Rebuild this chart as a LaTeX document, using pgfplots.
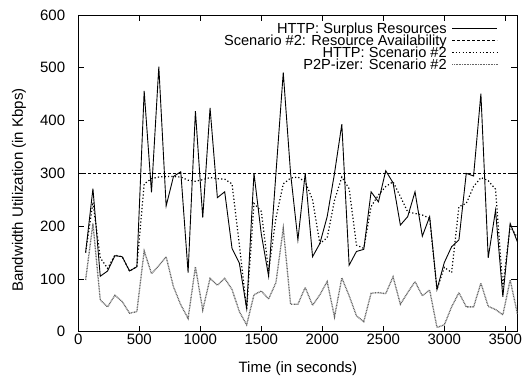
\documentclass[border=0pt]{standalone}
\usepackage{fontspec}
\setmainfont{Liberation Sans}
\usepackage{pgfplots}
\pgfplotsset{compat=1.18}
\begin{document}
\fontsize{15bp}{18bp}\selectfont
\begin{tikzpicture}[font=\fontsize{15bp}{18bp}\selectfont]
\begin{axis}[
  scale only axis, width=439.2bp, height=316.7bp,
  xmin=0, xmax=3600, ymin=0, ymax=600,
  xtick={0,500,...,3500}, ytick={0,100,...,600},
  tick align=inside, major tick length=6bp,
  tick style={black, line width=0.6bp},
  axis line style={line width=0.8bp},
  /pgf/number format/assume math mode=true,
  /pgf/number format/1000 sep={},
  ticklabel style={font=\fontsize{15bp}{18bp}\selectfont},
  xticklabel style={inner sep=0pt, anchor=north, yshift=-2.5bp},
  yticklabel style={inner sep=0pt, anchor=east, xshift=-13bp},
  xlabel={Time (in seconds)}, ylabel={Bandwidth Utilization (in Kbps)},
  every axis x label/.style={at={(axis description cs:0.5,-0.1178)}, anchor=center, inner sep=0pt},
  every axis y label/.style={at={(axis description cs:-0.135,0.447)}, anchor=center, rotate=90, inner sep=0pt},
  legend style={draw=none, fill=none, at={(axis description cs:0.9556,0.975)}, anchor=north east,
    inner sep=0pt, outer sep=0pt, row sep=0pt, column sep=5bp,
    font=\fontsize{14.6bp}{17bp}\selectfont,
    nodes={inner sep=0pt, text height=10.9bp, text depth=1bp}},
  legend cell align=right, legend plot pos=right,
  legend image code/.code={\draw[#1] (0bp,0bp) -- (45bp,0bp);},
]
\addplot[black, line width=0.9bp] table {
60 150
120 271
180 105
240 115
300 144
360 142
420 115
480 123
540 456
600 264
660 502
720 238
780 294
840 303
900 112
960 418
1020 216
1080 424
1140 254
1200 265
1260 158
1320 130
1380 44
1440 300
1500 185
1560 105
1620 300
1680 491
1740 300
1800 174
1860 300
1920 142
1980 167
2040 218
2100 300
2160 393
2220 126
2280 152
2340 156
2400 265
2460 246
2520 305
2580 282
2640 202
2700 218
2760 265
2820 181
2880 218
2940 80
3000 131
3060 161
3120 174
3180 300
3240 295
3300 451
3360 140
3420 230
3480 66
3540 205
3600 170
};
\addlegendentry{HTTP: Surplus Resources}
\addplot[black, line width=0.8bp, dash pattern=on 3bp off 2bp] table {
0 300
3600 300
};
\addlegendentry{Scenario \#2: Resource Availability}
\addplot[black, line width=1.2bp, dash pattern=on 1.2bp off 2.2bp] table {
60 150
120 245
180 140
240 120
300 145
360 142
420 115
480 123
540 280
600 290
660 293
720 294
780 294
840 293
900 287
960 285
1020 288
1080 292
1140 290
1200 289
1260 280
1320 165
1380 42
1440 243
1500 228
1560 115
1620 215
1680 280
1740 291
1800 293
1860 284
1920 250
1980 167
2040 178
2100 249
2160 293
2220 271
2280 164
2340 158
2400 237
2460 259
2520 275
2580 284
2640 256
2700 227
2760 224
2820 221
2880 215
2940 80
3000 122
3060 112
3120 237
3180 243
3240 275
3300 292
3360 286
3420 270
3480 85
3540 200
3600 178
};
\addlegendentry{HTTP: Scenario \#2}
\addplot[black!60, line width=1.3bp, dash pattern=on 0.9bp off 0.7bp] table {
60 98
120 205
180 60
240 47
300 69
360 57
420 35
480 38
540 153
600 110
660 125
720 142
780 85
840 51
900 25
960 123
1020 41
1080 101
1140 88
1200 101
1260 80
1320 38
1380 13
1440 70
1500 77
1560 62
1620 93
1680 196
1740 52
1800 52
1860 84
1920 50
1980 70
2040 95
2100 28
2160 102
2220 68
2280 30
2340 19
2400 73
2460 74
2520 72
2580 104
2640 52
2700 74
2760 95
2820 68
2880 79
2940 8
3000 13
3060 47
3120 74
3180 47
3240 47
3300 92
3360 48
3420 42
3480 32
3540 98
3600 33
};
\addlegendentry{P2P-izer: Scenario \#2}
\end{axis}
\pgfresetboundingbox
\path[use as bounding box] ([shift={(-78.3bp,-44.3bp)}]current axis.south west) rectangle ([shift={(5.5bp,15bp)}]current axis.north east);
\end{tikzpicture}
\end{document}
